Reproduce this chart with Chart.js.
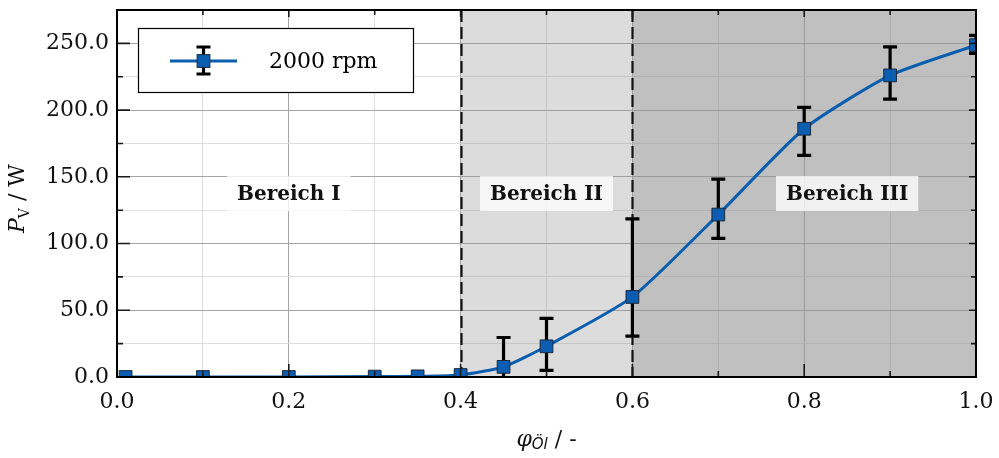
<!DOCTYPE html>
<html>
<head>
<meta charset="utf-8">
<title>Verlustleistung über Ölanteil</title>
<style>
  html, body { margin: 0; padding: 0; background: #fff; }
  #wrap { width: 999px; height: 458px; }
</style>
<script src="https://cdn.jsdelivr.net/npm/chart.js@4.4.1/dist/chart.umd.min.js"></script>
</head>
<body>
<div id="wrap"><canvas id="chart" width="999" height="458"></canvas></div>
<script>
// Measured power loss at 2000 rpm over oil fraction
const phiOil    = [0.01, 0.1, 0.2, 0.3, 0.35, 0.4, 0.45, 0.5, 0.6, 0.7, 0.8, 0.9, 1.0];
const powerLoss = [0, 0, 0, 0.3, 0.5, 1.5, 7.6, 23.0, 60.0, 121.7, 186.0, 226.0, 248.7];
const errLow    = [null, null, null, null, null, null, -14.5, 5.0, 30.7, 103.8, 166.0, 208.2, 242.4];
const errHigh   = [null, null, null, null, null, null, 29.6, 44.0, 118.5, 148.2, 202.0, 247.4, 256.0];
const seriesName = '2000 rpm';

// Axis tick labels (major ticks); minor ticks sit halfway between them
const xTickLabels = ['0.0', '0.2', '0.4', '0.6', '0.8', '1.0'];
const yTickLabels = ['0.0', '50.0', '100.0', '150.0', '200.0', '250.0'];

// Operating regions
const regionBounds = [0, 0.4, 0.6, 1.0];
const regionNames  = ['Bereich I', 'Bereich II', 'Bereich III'];
const regionLabelX = [0.2, 0.5, 0.85];
const regionLabelY = 137.5;

const SERIF = '"DejaVu Serif", "Liberation Serif", serif';
const LINE_BLUE = '#0b5eae';
const MARK_BLUE = '#0a5db0';
const MARK_EDGE = '#1b2a3c';
const regionFill = [null, 'rgba(150,150,150,0.33)', 'rgba(148,148,148,0.59)'];

const isMajorX = v => Math.round(v * 10) % 2 === 0;
const isMajorY = v => Math.round(v) % 50 === 0;
const labelFor = (labels, v) => {
  const hit = labels.find(l => Math.abs(parseFloat(l) - v) < 1e-6);
  return hit === undefined ? '' : hit;
};

function drawErrorBar(ctx, x, yTop, yBot, cap) {
  ctx.beginPath();
  ctx.moveTo(x, yTop); ctx.lineTo(x, yBot);
  ctx.moveTo(x - cap / 2, yTop); ctx.lineTo(x + cap / 2, yTop);
  ctx.moveTo(x - cap / 2, yBot); ctx.lineTo(x + cap / 2, yBot);
  ctx.stroke();
}

function drawRich(ctx, parts, cx, baseline) {
  let total = 0;
  parts.forEach(p => { ctx.font = p.font; p.w = ctx.measureText(p.text).width; total += p.w; });
  let x = cx - total / 2;
  ctx.textAlign = 'left';
  ctx.textBaseline = 'alphabetic';
  parts.forEach(p => { ctx.font = p.font; ctx.fillText(p.text, x, baseline + (p.dy || 0)); x += p.w; });
}

const decorations = {
  id: 'decorations',
  beforeDraw(chart) {
    const c = chart.ctx;
    c.save();
    c.fillStyle = '#fff';
    c.fillRect(0, 0, chart.width, chart.height);
    c.restore();
  },
  beforeDatasetsDraw(chart) {
    const { ctx, chartArea: a, scales: { x, y } } = chart;
    ctx.save();
    // shaded regions on top of the grid
    for (let i = 0; i < regionFill.length; i++) {
      if (!regionFill[i]) continue;
      const x0 = x.getPixelForValue(regionBounds[i]);
      const x1 = x.getPixelForValue(regionBounds[i + 1]);
      ctx.fillStyle = regionFill[i];
      ctx.fillRect(x0, a.top, x1 - x0, a.bottom - a.top);
    }
    // dashed region boundaries
    ctx.setLineDash([12, 5]);
    ctx.lineWidth = 2.2;
    ctx.strokeStyle = '#111';
    regionBounds.slice(1, -1).forEach(b => {
      const px = Math.round(x.getPixelForValue(b)) + 0.5;
      ctx.beginPath(); ctx.moveTo(px, a.top); ctx.lineTo(px, a.bottom); ctx.stroke();
    });
    ctx.setLineDash([]);
    // region names in white boxes
    ctx.font = 'bold 20px ' + SERIF;
    ctx.textAlign = 'center';
    ctx.textBaseline = 'middle';
    regionNames.forEach((t, i) => {
      const cx = x.getPixelForValue(regionLabelX[i]);
      const cy = y.getPixelForValue(regionLabelY);
      const w = ctx.measureText(t).width + 20;
      ctx.fillStyle = 'rgba(255,255,255,0.78)';
      ctx.fillRect(cx - w / 2, cy - 17.5, w, 35);
      ctx.fillStyle = '#111';
      ctx.fillText(t, cx, cy + 1);
    });
    // error bars, clipped to the plot area
    ctx.beginPath();
    ctx.rect(a.left, a.top, a.right - a.left, a.bottom - a.top);
    ctx.clip();
    ctx.strokeStyle = '#000';
    ctx.lineWidth = 3.2;
    const meta = chart.getDatasetMeta(0);
    meta.data.forEach((pt, i) => {
      if (errLow[i] === null || errHigh[i] === null) return;
      drawErrorBar(ctx, pt.x, y.getPixelForValue(errHigh[i]), y.getPixelForValue(errLow[i]), 14);
    });
    ctx.restore();
  },
  afterDatasetsDraw(chart) {
    const { ctx, chartArea: a, scales: { x, y } } = chart;
    ctx.save();
    // inward ticks on all four sides
    ctx.strokeStyle = '#1a1a1a';
    ctx.lineWidth = 1.6;
    ctx.beginPath();
    x.ticks.forEach(t => {
      const px = x.getPixelForValue(t.value);
      const major = isMajorX(t.value);
      const lb = major ? 13 : 6, lt = major ? 7 : 5;
      ctx.moveTo(px, a.bottom); ctx.lineTo(px, a.bottom - lb);
      ctx.moveTo(px, a.top); ctx.lineTo(px, a.top + lt);
    });
    y.ticks.forEach(t => {
      const py = y.getPixelForValue(t.value);
      const major = isMajorY(t.value);
      const ll = major ? 13 : 6, lr = major ? 7 : 5;
      ctx.moveTo(a.left, py); ctx.lineTo(a.left + ll, py);
      ctx.moveTo(a.right, py); ctx.lineTo(a.right - lr, py);
    });
    ctx.stroke();
    // plot frame
    ctx.strokeStyle = '#000';
    ctx.lineWidth = 2;
    ctx.strokeRect(a.left, a.top, a.right - a.left, a.bottom - a.top);
    ctx.restore();
  },
  afterDraw(chart) {
    const { ctx, chartArea: a } = chart;
    ctx.save();
    // legend
    const lx = 138.5, ly = 28.5, lw = 275, lh = 64;
    ctx.fillStyle = '#fff';
    ctx.fillRect(lx, ly, lw, lh);
    ctx.strokeStyle = '#000';
    ctx.lineWidth = 1.2;
    ctx.strokeRect(lx, ly, lw, lh);
    const sy = 61, sx = 203.5;
    ctx.strokeStyle = LINE_BLUE;
    ctx.lineWidth = 3;
    ctx.beginPath(); ctx.moveTo(170, sy); ctx.lineTo(237, sy); ctx.stroke();
    ctx.strokeStyle = '#000';
    ctx.lineWidth = 3.2;
    drawErrorBar(ctx, sx, 47, 74, 14);
    ctx.fillStyle = MARK_BLUE;
    ctx.strokeStyle = MARK_EDGE;
    ctx.lineWidth = 1;
    ctx.fillRect(sx - 6.4, sy - 6.4, 12.8, 12.8);
    ctx.strokeRect(sx - 6.4, sy - 6.4, 12.8, 12.8);
    ctx.fillStyle = '#000';
    ctx.font = '22px ' + SERIF;
    ctx.textAlign = 'left';
    ctx.textBaseline = 'middle';
    ctx.fillText(seriesName, 269, sy + 1);
    // x axis title: φ_Öl / -
    ctx.fillStyle = '#111';
    drawRich(ctx, [
      { text: 'φ', font: 'italic 22px ' + SERIF },
      { text: 'Öl', font: 'italic 15px "DejaVu Sans", sans-serif', dy: 3 },
      { text: ' / -', font: '22px ' + SERIF }
    ], (a.left + a.right) / 2, 446);
    // y axis title: P_V / W
    ctx.translate(24, (a.top + a.bottom) / 2 + 5);
    ctx.rotate(-Math.PI / 2);
    drawRich(ctx, [
      { text: 'P', font: 'italic 22px ' + SERIF },
      { text: 'V', font: '14px ' + SERIF, dy: 5 },
      { text: ' / W', font: '22px ' + SERIF }
    ], 0, 0);
    ctx.restore();
  }
};

Chart.defaults.font.family = SERIF;

new Chart(document.getElementById('chart'), {
  type: 'line',
  data: {
    datasets: [{
      label: seriesName,
      data: phiOil.map((v, i) => ({ x: v, y: powerLoss[i] })),
      borderColor: LINE_BLUE,
      borderWidth: 3,
      tension: 0.2,
      pointStyle: 'rect',
      pointRadius: 9,
      pointHoverRadius: 9,
      pointBackgroundColor: MARK_BLUE,
      pointBorderColor: MARK_EDGE,
      pointBorderWidth: 1,
      fill: false,
      clip: 0
    }]
  },
  options: {
    responsive: false,
    animation: false,
    devicePixelRatio: 1,
    events: [],
    layout: { padding: { top: 8, right: 23, left: 0, bottom: 0 } },
    plugins: { legend: { display: false }, tooltip: { enabled: false } },
    scales: {
      x: {
        type: 'linear',
        min: 0, max: 1,
        afterFit: s => { s.height = 81; s.paddingLeft = 0; s.paddingRight = 0; },
        border: { display: false },
        grid: {
          drawTicks: false,
          lineWidth: 1,
          color: c => isMajorX(c.tick.value) ? '#a4a4a4' : '#dedede'
        },
        ticks: {
          stepSize: 0.1,
          autoSkip: false,
          maxRotation: 0,
          padding: 12,
          color: '#111',
          font: { size: 22, family: SERIF },
          callback: v => labelFor(xTickLabels, v)
        }
      },
      y: {
        min: 0, max: 275,
        afterFit: s => { s.width = 117; s.paddingTop = 0; s.paddingBottom = 0; },
        border: { display: false },
        grid: {
          drawTicks: false,
          lineWidth: 1,
          color: c => isMajorY(c.tick.value) ? '#a4a4a4' : '#dedede'
        },
        ticks: {
          stepSize: 25,
          autoSkip: false,
          padding: 8,
          color: '#111',
          font: { size: 22, family: SERIF },
          callback: v => labelFor(yTickLabels, v)
        }
      }
    }
  },
  plugins: [decorations]
});
</script>
</body>
</html>
